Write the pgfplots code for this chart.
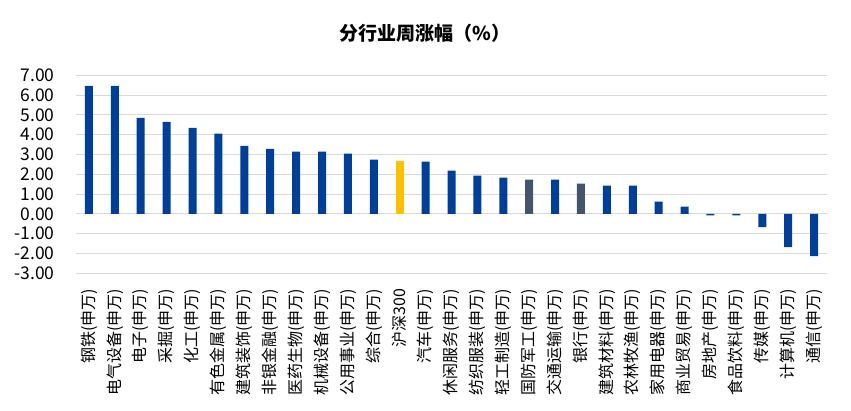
\documentclass[border=0pt]{standalone}
\usepackage{fontspec}
\setmainfont{Noto Sans CJK SC}
\usepackage{pgfplots}
\pgfplotsset{compat=1.18}
\definecolor{barblue}{RGB}{0,63,152}
\definecolor{bargray}{RGB}{68,84,106}
\definecolor{baryellow}{RGB}{255,192,0}
\definecolor{gridgray}{RGB}{217,217,217}
\begin{document}
\begin{tikzpicture}
\path[use as bounding box] (-76pt,-137.7pt) rectangle (775pt,273.3pt);
\begin{axis}[
    at={(0pt,0pt)}, anchor=south west,
    scale only axis,
    width=751pt, height=198pt,
    xmin=-0.5, xmax=28.5,
    ymin=-3, ymax=7,
    ytick={-3,-2,...,7},
    xtick={0,1,...,28},
    xticklabels={钢铁(申万),电气设备(申万),电子(申万),采掘(申万),化工(申万),有色金属(申万),建筑装饰(申万),非银金融(申万),医药生物(申万),机械设备(申万),公用事业(申万),综合(申万),沪深300,汽车(申万),休闲服务(申万),纺织服装(申万),轻工制造(申万),国防军工(申万),交通运输(申万),银行(申万),建筑材料(申万),农林牧渔(申万),家用电器(申万),商业贸易(申万),房地产(申万),食品饮料(申万),传媒(申万),计算机(申万),通信(申万)},
    x tick label style={rotate=90, anchor=east, font=\fontsize{16}{16}\selectfont},
    y tick label style={font=\fontsize{17.5}{17.5}\selectfont},
    yticklabel style={/pgf/number format/.cd, fixed, fixed zerofill, precision=2, assume math mode=true},
    xticklabel shift=8pt,
    yticklabel shift=18pt,
    axis line style={draw=none},
    tick style={draw=none},
    ymajorgrids,
    grid style={gridgray, line width=1pt},
    ybar, bar width=8pt, bar shift=0pt,
    clip=false,
]
\addplot[fill=barblue, draw=none] coordinates {
    (0,6.46) (1,6.46) (2,4.85) (3,4.65) (4,4.35) (5,4.05) (6,3.44) (7,3.29)
    (8,3.14) (9,3.14) (10,3.04) (11,2.74) (13,2.64) (14,2.18) (15,1.93)
    (16,1.83) (18,1.73) (20,1.43) (21,1.43) (22,0.62) (23,0.37)
    (24,-0.08) (25,-0.08) (26,-0.67) (27,-1.68) (28,-2.13)
};
\addplot[fill=baryellow, draw=none] coordinates {(12,2.69)};
\addplot[fill=bargray, draw=none] coordinates {(17,1.73) (19,1.53)};
\end{axis}
\node[font=\bfseries\fontsize{19}{19}\selectfont] at (349pt,240pt) {分行业周涨幅（\%）};
\end{tikzpicture}
\end{document}
